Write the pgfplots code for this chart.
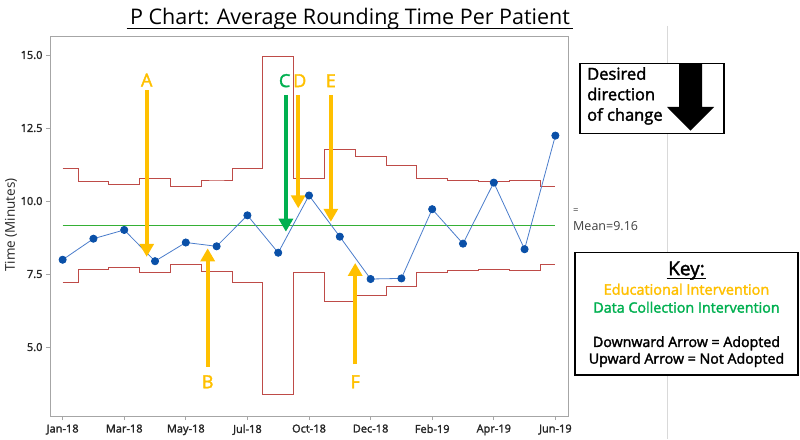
\documentclass[border=0pt]{standalone}
\usepackage{fontspec}
\setmainfont{Open Sans}
\newfontfamily\sbfont{Open Sans}[FakeBold=2]
\usepackage{pgfplots}
\usepackage{pgfplotstable}
\pgfplotsset{compat=1.18}
\usetikzlibrary{arrows.meta}
\definecolor{gold}{HTML}{FFC000}
\definecolor{dgreen}{HTML}{00B050}
\definecolor{cline}{HTML}{35B035}
\definecolor{limred}{HTML}{BE4B48}
\definecolor{ptblue}{HTML}{0A50A8}
\definecolor{lnblue}{HTML}{4A7CCB}
\definecolor{framegray}{HTML}{A6A6A6}

\pgfplotstableread{
x v ucl lcl
0 7.99 11.11 7.21
1 8.71 10.67 7.65
2 9.01 10.58 7.74
3 7.94 10.78 7.54
4 8.58 10.50 7.82
5 8.45 10.72 7.60
6 9.51 11.10 7.22
7 8.23 14.95 3.37
8 10.19 10.78 7.54
9 8.78 11.76 6.56
10 7.33 11.54 6.78
11 7.35 11.23 7.09
12 9.72 10.76 7.56
13 8.54 10.70 7.62
14 10.63 10.66 7.66
15 8.35 10.71 7.61
16 12.24 10.50 7.82
}\pchart

\pgfplotstableread{
x m
0 9.16
16 9.16
}\meanline

\begin{document}
\begin{tikzpicture}
\path[use as bounding box] (-50pt,-23pt) rectangle (750pt,416pt);
\begin{axis}[
  at={(0pt,0pt)}, anchor=south west,
  width=518pt, height=380pt, scale only axis,
  xmin=-0.41, xmax=16.41, ymin=2.64, ymax=15.65,
  clip=false,
  axis line style={draw=framegray, line width=0.9pt},
  tick align=outside, tick pos=left,
  major tick length=4pt,
  tick style={draw=framegray, line width=0.8pt},
  xtick={0,2,...,16},
  xticklabels={Jan-18,Mar-18,May-18,Jul-18,Oct-18,Dec-18,Feb-19,Apr-19,Jun-19},
  ytick={5,7.5,10,12.5,15},
  yticklabel style={/pgf/number format/.cd, fixed, fixed zerofill, precision=1, assume math mode=true},
  ticklabel style={font=\sbfont\fontsize{11}{13}\selectfont, text=black!85},
  xticklabel style={yshift=-1pt},
]
\addplot[color=limred, line width=0.9pt, const plot mark mid] table[x=x, y=ucl]{\pchart};
\addplot[color=limred, line width=0.9pt, const plot mark mid] table[x=x, y=lcl]{\pchart};
\addplot[color=cline, solid, line width=1.2pt, mark=none] table[x=x, y=m]{\meanline};
\addplot[color=lnblue, line width=0.8pt, mark=*, mark size=3.6pt, mark options={draw=ptblue, fill=ptblue}] table[x=x, y=v]{\pchart};

% intervention arrows
\draw[gold, line width=4.3pt, -{Triangle[width=14pt,length=13pt]}] (axis cs:2.73,13.80) -- (axis cs:2.73,8.09);
\draw[gold, line width=4.3pt, -{Triangle[width=14pt,length=13pt]}] (axis cs:4.71,4.33) -- (axis cs:4.71,8.38);
\draw[dgreen, line width=4.3pt, -{Triangle[width=14pt,length=13pt]}] (axis cs:7.25,13.63) -- (axis cs:7.25,8.95);
\draw[gold, line width=4.3pt, -{Triangle[width=14pt,length=13pt]}] (axis cs:7.65,13.63) -- (axis cs:7.65,9.75);
\draw[gold, line width=4.3pt, -{Triangle[width=14pt,length=13pt]}] (axis cs:8.71,13.63) -- (axis cs:8.71,9.29);
\draw[gold, line width=4.3pt, -{Triangle[width=14pt,length=13pt]}] (axis cs:9.50,4.41) -- (axis cs:9.50,7.88);
\node[gold, font=\sbfont\fontsize{18}{20}\selectfont] at (axis cs:2.73,14.14) {A};
\node[gold, font=\sbfont\fontsize{18}{20}\selectfont] at (axis cs:4.71,3.81) {B};
\node[dgreen, font=\sbfont\fontsize{18}{20}\selectfont] at (axis cs:7.21,14.12) {C};
\node[gold, font=\sbfont\fontsize{18}{20}\selectfont] at (axis cs:7.70,14.12) {D};
\node[gold, font=\sbfont\fontsize{18}{20}\selectfont] at (axis cs:8.71,14.12) {E};
\node[gold, font=\sbfont\fontsize{18}{20}\selectfont] at (axis cs:9.50,3.81) {F};
\end{axis}

% y label
\node[rotate=90, font=\fontsize{13.5}{15}\selectfont, text=black!85] at (-39pt,191pt) {Time (Minutes)};

% title
\node[font=\fontsize{21.5}{24}\selectfont, anchor=base] (title) at (300pt,391pt) {P Chart: Average Rounding Time Per Patient};
\draw[line width=1.4pt] ([yshift=-3.5pt]title.base west) -- ([yshift=-3.5pt]title.base east);

% separator line
\draw[gray!30, line width=0.8pt] (617pt,390pt) -- (617pt,-23pt);

% mean label
\node[font=\fontsize{9.5}{10}\selectfont, text=black!75, anchor=west, inner sep=0pt] at (523pt,205pt) {=};
\node[font=\fontsize{12.5}{14}\selectfont, text=black!75, anchor=west, inner sep=0pt] at (523pt,190.3pt) {Mean=9.16};

% desired direction box
\fill[white] (530pt,282.7pt) rectangle (674pt,352.7pt);
\draw[black, line width=1.4pt] (530pt,282.7pt) rectangle (674pt,352.7pt);
\node[font=\sbfont\fontsize{16.5}{20.5}\selectfont, anchor=north west, align=left, inner sep=0pt] at (537pt,349pt) {Desired\\direction\\of change};
\fill[black] (629pt,352pt) -- (652pt,352pt) -- (652pt,309pt) -- (664pt,309pt) -- (640.5pt,285.3pt) -- (617pt,309pt) -- (629pt,309pt) -- cycle;

% key box
\fill[white] (525pt,41pt) rectangle (748pt,163.3pt);
\draw[black, line width=1.4pt] (525pt,41pt) rectangle (748pt,163.3pt);
\node[font=\sbfont\fontsize{19}{22}\selectfont] (key) at (636.5pt,145.3pt) {Key:};
\draw[line width=1.1pt] ([yshift=-3pt,xshift=2pt]key.base west) -- ([yshift=-3pt,xshift=-2pt]key.base east);
\node[gold, font=\sbfont\fontsize{14.5}{16}\selectfont] at (636.5pt,126.7pt) {Educational Intervention};
\node[dgreen, font=\sbfont\fontsize{14.3}{16}\selectfont] at (636.5pt,108.7pt) {Data Collection Intervention};
\node[font=\sbfont\fontsize{14.2}{16}\selectfont] at (636.5pt,72.7pt) {Downward Arrow = Adopted};
\node[font=\sbfont\fontsize{14.2}{16}\selectfont] at (636.5pt,56pt) {Upward Arrow = Not Adopted};
\end{tikzpicture}
\end{document}
